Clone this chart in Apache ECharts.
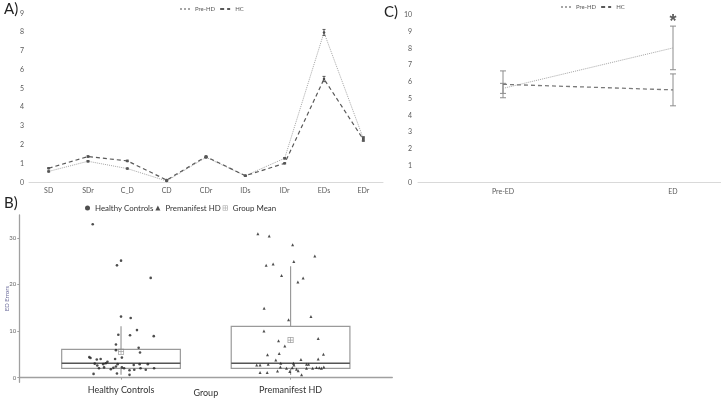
<!DOCTYPE html>
<html><head><meta charset="utf-8">
<script src="https://cdn.jsdelivr.net/npm/echarts@6/dist/echarts.min.js"></script>
<style>html,body{margin:0;padding:0;background:#fff}#c{width:721px;height:400px}</style>
</head><body><div id="c"></div>
<script>
// ---------- Panel A ----------
const aCategories = ['SD','SDr','C_D','CD','CDr','IDs','IDr','EDs','EDr'];
const aPreHD    = [0.58,1.12,0.73,0.07,1.33,0.35,1.28,7.98,2.33];
const aPreHDErr = [0.03,0.04,0.03,0.02,0.04,0.02,0.04,0.16,0.10];
const aHC       = [0.75,1.37,1.14,0.12,1.37,0.35,1.01,5.50,2.28];
const aHCErr    = [0.03,0.04,0.04,0.02,0.04,0.02,0.03,0.14,0.10];
// ---------- Panel C ----------
const cCategories = ['Pre-ED','ED'];
const cPreHD    = [5.61,8.02];
const cPreHDErr = [0.30,1.30];
const cHC       = [5.85,5.52];
const cHCErr    = [0.80,0.95];
const cSignif   = [{cat:'ED', value:9.55, text:'*'}];
// ---------- Panel B ----------
const bGroups = ['Healthy Controls','Premanifest HD'];
// [lower whisker, Q1, median, Q3, upper whisker]
const bBoxHC  = [0.6,2.0,3.08,6.05,11.05];
const bBoxPHD = [0.6,2.0,3.08,11.0,23.9];
const bMeans  = [5.57,8.07];
const bYTicks = [0,10,20,30];
// [horizontal jitter, ED errors]
const bHCPoints = [
 [-0.167,32.9],[0,25.1],[-0.024,24.1],[0.175,21.4],[0,13.1],[0.057,12.8],[0.094,10.2],
 [-0.016,9.2],[0.053,9.1],[0.193,8.9],[-0.03,7.1],[0.104,6.4],[0.112,5.4],[-0.03,5.9],
 [0.005,4.3],[-0.187,4.4],[-0.18,4.2],[-0.143,3.9],[-0.12,4.0],[-0.035,4.0],[-0.08,3.4],
 [-0.09,3.1],[-0.105,2.9],[-0.155,3.0],[-0.14,2.6],[-0.13,2.0],[-0.1,2.2],[-0.06,1.8],
 [-0.045,2.1],[-0.03,2.4],[-0.02,2.9],[0.005,2.2],[0.018,2.0],[0.05,1.6],[0.075,2.7],
 [0.078,1.7],[0.11,2.9],[0.115,2.0],[0.146,1.7],[0.158,2.9],[0.195,2.0],[0.05,0.6],
 [-0.162,0.8],[-0.024,0.9]
];
const bPHDPoints = [
 [-0.193,30.9],[-0.126,30.4],[0.012,28.5],[0.143,26.1],[-0.144,24.1],[-0.103,24.4],
 [0.019,24.9],[-0.053,21.9],[0.074,21.4],[0.043,20.5],[-0.156,14.9],[0.12,13.1],
 [-0.012,12.4],[-0.157,10.0],[0.163,8.4],[-0.071,7.9],[-0.034,6.8],[-0.136,4.9],
 [-0.067,5.2],[0.194,5.0],[-0.087,3.8],[0.061,3.9],[0.163,4.0],[-0.2,2.7],[-0.18,2.7],
 [-0.132,2.9],[-0.058,3.1],[0.017,3.1],[0.094,2.9],[0.106,2.9],[-0.06,2.3],[-0.024,2.0],
 [0.01,2.1],[0.035,1.8],[0.045,1.5],[0.094,2.0],[0.13,2.0],[0.153,2.2],[0.169,2.1],
 [0.182,2.0],[0.196,2.3],[-0.18,1.1],[-0.138,1.1],[-0.077,1.4],[-0.005,1.3],[0.065,0.6],
 [0.02,2.7]
];

const FONT = 'Lato, "Open Sans", sans-serif';
const MEAN_SYMBOL = 'path://M0,0H10V10H0Z M1.2,1.2V4.4H4.4V1.2Z M5.6,1.2V4.4H8.8V1.2Z M1.2,5.6V8.8H4.4V5.6Z M5.6,5.6V8.8H8.8V5.6Z';

function errRender(capHalf, color){
  return function(params, api){
    const x = api.value(0);
    const lo = api.coord([x, api.value(1)]);
    const hi = api.coord([x, api.value(2)]);
    const style = {stroke: color, lineWidth: 1};
    return {type:'group', children:[
      {type:'line', shape:{x1:lo[0],y1:lo[1],x2:hi[0],y2:hi[1]}, style},
      {type:'line', shape:{x1:lo[0]-capHalf,y1:lo[1],x2:lo[0]+capHalf,y2:lo[1]}, style},
      {type:'line', shape:{x1:hi[0]-capHalf,y1:hi[1],x2:hi[0]+capHalf,y2:hi[1]}, style}
    ]};
  };
}
function errData(vals, errs){ return vals.map((v,i)=>[i, v-errs[i], v+errs[i]]); }

function boxRender(params, api){
  const x = api.value(0);
  const low=api.value(1), q1=api.value(2), med=api.value(3), q3=api.value(4), high=api.value(5);
  const half = 0.35;
  const tl = api.coord([x-half, q3]), br = api.coord([x+half, q1]);
  const m1 = api.coord([x-half, med]), m2 = api.coord([x+half, med]);
  const a = api.coord([x, q3]), b = api.coord([x, high]);
  const c = api.coord([x, q1]), d = api.coord([x, low]);
  const st = {stroke:'#9a9a9a', lineWidth:1.2, fill:null};
  return {type:'group', children:[
    {type:'line', shape:{x1:a[0],y1:a[1],x2:b[0],y2:b[1]}, style:st},
    {type:'line', shape:{x1:c[0],y1:c[1],x2:d[0],y2:d[1]}, style:st},
    {type:'rect', shape:{x:tl[0], y:tl[1], width:br[0]-tl[0], height:br[1]-tl[1]}, style:{stroke:'#9a9a9a', lineWidth:1.2, fill:'rgba(255,255,255,0)'}},
    {type:'line', shape:{x1:m1[0],y1:m1[1],x2:m2[0],y2:m2[1]}, style:{stroke:'#555', lineWidth:1.6}}
  ]};
}

const smallAxisLabel = {fontSize:7, color:'#595959', fontFamily:FONT};

const option = {
  animation:false,
  backgroundColor:'#fff',
  graphic:[
    {type:'text', left:4, top:2, style:{text:'A)', fontSize:15, fill:'#222', fontFamily:FONT}},
    {type:'text', left:384, top:5, style:{text:'C)', fontSize:15, fill:'#222', fontFamily:FONT}},
    {type:'text', left:4, top:196, style:{text:'B)', fontSize:15, fill:'#222', fontFamily:FONT}}
  ],
  legend:[
    {data:['Pre-HD','HC'], left:174, top:1, itemWidth:10, itemHeight:6, itemGap:4,
     itemStyle:{opacity:0}, textStyle:{fontSize:6, color:'#595959', fontFamily:FONT}},
    {data:['Pre-HD','HC'], left:555, top:-1, itemWidth:10, itemHeight:6, itemGap:4,
     itemStyle:{opacity:0}, textStyle:{fontSize:6, color:'#595959', fontFamily:FONT}},
    {data:['Healthy Controls','Premanifest HD','Group Mean'], left:80, top:199, itemWidth:5, itemHeight:5, itemGap:2,
     textStyle:{fontSize:7.9, color:'#333', fontFamily:FONT}}
  ],
  grid:[
    {left:29, top:13.3, width:354, height:169, outerBoundsMode:'none', containLabel:false},
    {left:418, top:14.7, width:340, height:167.8, outerBoundsMode:'none', containLabel:false},
    {left:19.3, top:215, width:373, height:167.3, outerBoundsMode:'none', containLabel:false}
  ],
  xAxis:[
    {type:'category', gridIndex:0, data:aCategories, axisLine:{lineStyle:{color:'#d9d9d9'}}, axisTick:{show:false},
     axisLabel:Object.assign({margin:5}, smallAxisLabel)},
    {type:'category', gridIndex:1, data:cCategories, axisLine:{lineStyle:{color:'#d9d9d9'}}, axisTick:{show:false},
     axisLabel:Object.assign({margin:6}, smallAxisLabel)},
    {type:'value', gridIndex:2, min:0.4, max:2.6, splitLine:{show:false},
     axisLine:{lineStyle:{color:'#a0a0a0', width:1.3}},
     axisTick:{show:true, length:2, customValues:[1,2], lineStyle:{color:'#a0a0a0'}},
     axisLabel:{customValues:[1,2], formatter:v=>bGroups[Math.round(v)-1], fontSize:9, color:'#333', margin:3, fontFamily:FONT},
     name:'Group', nameLocation:'middle', nameGap:6, nameMoveOverlap:false,
     nameTextStyle:{fontSize:9, color:'#333', fontFamily:FONT}}
  ],
  yAxis:[
    {type:'value', gridIndex:0, min:0, max:9, interval:1, splitLine:{show:false}, axisLine:{show:false}, axisTick:{show:false},
     axisLabel:Object.assign({margin:5}, smallAxisLabel)},
    {type:'value', gridIndex:1, min:0, max:10, interval:1, splitLine:{show:false}, axisLine:{show:false}, axisTick:{show:false},
     axisLabel:Object.assign({margin:6}, smallAxisLabel)},
    {type:'value', gridIndex:2, min:-1, max:34.9, splitLine:{show:false},
     axisLine:{show:true, lineStyle:{color:'#a0a0a0', width:1.3}},
     axisTick:{show:true, length:2, customValues:bYTicks, lineStyle:{color:'#a0a0a0'}},
     axisLabel:{customValues:bYTicks, fontSize:6, color:'#666', margin:3, fontFamily:FONT},
     name:'ED Errors', nameLocation:'middle', nameRotate:90, nameGap:9, nameMoveOverlap:false,
     nameTextStyle:{fontSize:6, color:'#6b6b9b', fontFamily:FONT}}
  ],
  series:[
    // Panel A
    {name:'Pre-HD', type:'line', xAxisIndex:0, yAxisIndex:0, data:aPreHD,
     lineStyle:{type:'dotted', color:'#a6a6a6', width:1}, symbol:'circle', symbolSize:2.5,
     itemStyle:{color:'#404040'}, z:3},
    {name:'HC', type:'line', xAxisIndex:0, yAxisIndex:0, data:aHC,
     lineStyle:{type:[4,3], color:'#595959', width:1.2}, symbol:'circle', symbolSize:2.5,
     itemStyle:{color:'#404040'}, z:3},
    {type:'custom', xAxisIndex:0, yAxisIndex:0, data:errData(aPreHD,aPreHDErr), renderItem:errRender(1.5,'#595959'), z:4},
    {type:'custom', xAxisIndex:0, yAxisIndex:0, data:errData(aHC,aHCErr), renderItem:errRender(1.5,'#595959'), z:4},
    // Panel C
    {name:'Pre-HD', type:'line', xAxisIndex:1, yAxisIndex:1, data:cPreHD,
     lineStyle:{type:'dotted', color:'#a6a6a6', width:1}, symbol:'none'},
    {name:'HC', type:'line', xAxisIndex:1, yAxisIndex:1, data:cHC,
     lineStyle:{type:[4,3], color:'#7a7a7a', width:1.3}, symbol:'none'},
    {type:'custom', xAxisIndex:1, yAxisIndex:1, data:errData(cPreHD,cPreHDErr), renderItem:errRender(3,'#8c8c8c')},
    {type:'custom', xAxisIndex:1, yAxisIndex:1, data:errData(cHC,cHCErr), renderItem:errRender(3,'#8c8c8c')},
    {type:'scatter', xAxisIndex:1, yAxisIndex:1, symbolSize:0, silent:true,
     data:cSignif.map(s=>({value:[s.cat, s.value], label:{show:true, formatter:s.text, position:'inside', fontSize:18, fontWeight:'bold', color:'#333'}}))},
    // Panel B
    {type:'custom', xAxisIndex:2, yAxisIndex:2, data:[[1].concat(bBoxHC),[2].concat(bBoxPHD)], renderItem:boxRender, z:1},
    {name:'Healthy Controls', type:'scatter', xAxisIndex:2, yAxisIndex:2, symbol:'circle', symbolSize:2.6,
     itemStyle:{color:'#222'}, data:bHCPoints.map(p=>[1+p[0], p[1]]), z:3},
    {name:'Premanifest HD', type:'scatter', xAxisIndex:2, yAxisIndex:2, symbol:'triangle', symbolSize:3,
     itemStyle:{color:'#222'}, data:bPHDPoints.map(p=>[2+p[0], p[1]]), z:3},
    {name:'Group Mean', type:'scatter', xAxisIndex:2, yAxisIndex:2, symbol:MEAN_SYMBOL, symbolSize:6,
     itemStyle:{color:'#8a8a8a'}, data:bMeans.map((m,i)=>[i+1, m]), z:4}
  ]
};
echarts.init(document.getElementById('c')).setOption(option);
</script>
</body></html>
